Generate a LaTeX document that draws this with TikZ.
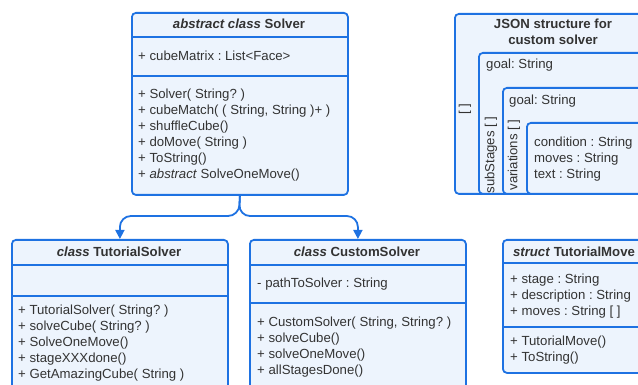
\documentclass[tikz,border=0pt]{standalone}
\usepackage{fontspec}
\setmainfont{Liberation Sans}
\usetikzlibrary{arrows.meta}
\definecolor{umlblue}{RGB}{30,114,226}
\definecolor{umlfill}{RGB}{237,244,253}
\definecolor{umltext}{RGB}{51,51,51}
\frenchspacing

\begin{document}
\begin{tikzpicture}[x=1pt,y=-1pt,
  umlbox/.style={draw=umlblue, fill=umlfill, line width=1.8pt, rounded corners=4pt,
    inner sep=0pt, anchor=north west},
  sepline/.style={draw=umlblue, line width=1.8pt},
  txt/.style={text=umltext, font=\fontsize{13.2}{16}\selectfont, inner sep=0pt,
    align=left, anchor=west},
  ttl/.style={text=umltext, font=\fontsize{13.2}{16}\selectfont\bfseries, inner sep=0pt,
    align=center},
  vlabel/.style={txt, rotate=90, anchor=center},
  inherit/.style={draw=umlblue, line width=1.8pt, rounded corners=11pt,
    -{Triangle[length=9pt,width=9pt]}}
]
\useasboundingbox (0,0) rectangle (638,385);
\clip (0,0) rectangle (638,385);

% abstract base class
\node[umlbox, minimum width=216pt, minimum height=182pt] (solver) at (131,12) {};
\draw[sepline] (solver.west |- 0,37) -- (solver.east |- 0,37);
\draw[sepline] (solver.west |- 0,76) -- (solver.east |- 0,76);
\node[ttl] (solverT) at (239,24) {\textit{abstract class} Solver};
\node[txt] (solverA) at (138,56) {+ cubeMatrix : List<Face>};
\node[txt] (solverM) at (138,135) {+ Solver( String? )\\
  + cubeMatch( ( String, String )+ )\\
  + shuffleCube()\\
  + doMove( String )\\
  + ToString()\\
  + \textit{abstract} SolveOneMove()};

% tutorial solver
\node[umlbox, minimum width=216pt, minimum height=160pt] (tut) at (11,239) {};
\draw[sepline] (tut.west |- 0,265) -- (tut.east |- 0,265);
\draw[sepline] (tut.west |- 0,296) -- (tut.east |- 0,296);
\node[ttl] (tutT) at (119,252) {\textit{class} TutorialSolver};
\node[txt] (tutM) at (18,343) {+ TutorialSolver( String? )\\
  + solveCube( String? )\\
  + SolveOneMove()\\
  + stageXXXdone()\\
  + GetAmazingCube( String )};

% custom solver
\node[umlbox, minimum width=216pt, minimum height=160pt] (cust) at (249,239) {};
\draw[sepline] (cust.west |- 0,265) -- (cust.east |- 0,265);
\draw[sepline] (cust.west |- 0,303) -- (cust.east |- 0,303);
\node[ttl] (custT) at (357,252) {\textit{class} CustomSolver};
\node[txt] (custA) at (257,284) {- pathToSolver : String};
\node[txt] (custM) at (257,347) {+ CustomSolver( String, String? )\\
  + solveCube()\\
  + solveOneMove()\\
  + allStagesDone()};

% inheritance arrows
\draw[inherit] (solver.south) -- (239,216) -| (tut.north);
\draw[inherit] (solver.south) -- (239,216) -| (cust.north);

% tutorial move struct
\node[umlbox, minimum width=144pt, minimum height=133pt] (move) at (502,239) {};
\draw[sepline] (move.west |- 0,263) -- (move.east |- 0,263);
\draw[sepline] (move.west |- 0,327) -- (move.east |- 0,327);
\node[ttl] (moveT) at (574,252) {\textit{struct} TutorialMove};
\node[txt] (moveA) at (510,296) {+ stage : String\\
  + description : String\\
  + moves : String [ ]};
\node[txt] (moveM) at (510,350) {+ TutorialMove()\\
  + ToString()};

% JSON structure, nested levels
\node[umlbox, minimum width=198pt, minimum height=180pt] (json) at (454,13) {};
\node[ttl] (jsonT) at (553,32) {JSON structure for\\custom solver};
\node[vlabel] (jsonL) at (465,109) {[ ]};

\node[umlbox, minimum width=174pt, minimum height=141pt] (stages) at (478,52) {};
\node[txt] (stagesG) at (486,65) {goal: String};
\node[vlabel] (stagesL) at (491,155) {subStages [ ]};

\node[umlbox, minimum width=150pt, minimum height=106pt] (vars) at (502,87) {};
\node[txt] (varsG) at (509,101) {goal: String};
\node[vlabel] (varsL) at (514,155) {variations [ ]};

\node[umlbox, minimum width=126pt, minimum height=71pt] (leaf) at (526,122) {};
\node[txt] (leafT) at (534,159) {condition : String\\
  moves : String\\
  text : String};
\end{tikzpicture}
\end{document}
